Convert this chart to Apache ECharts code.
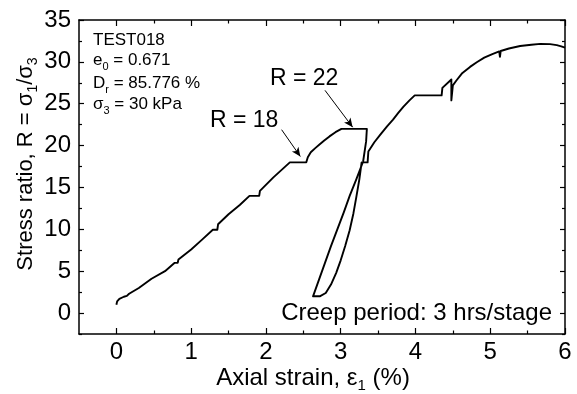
<!DOCTYPE html>
<html>
<head>
<meta charset="utf-8">
<script src="https://cdn.jsdelivr.net/npm/echarts@6/dist/echarts.min.js"></script>
<style>
html,body{margin:0;padding:0;background:#fff;}
#chart{width:577px;height:394px;}
</style>
</head>
<body>
<div id="chart"></div>
<script>
// Axial strain (%) and stress ratio R along the test path (loading, unload-reload loop, reloading)
var strain = [0.00,0.01,0.04,0.10,0.14,0.16,0.17,0.30,0.47,0.65,0.78,0.82,0.83,1.00,1.15,1.29,1.35,1.36,1.50,1.65,1.78,1.91,1.92,2.10,2.32,2.54,2.56,2.60,2.66,2.72,2.78,2.85,2.93,3.01,3.35,
  3.34,3.30,3.21,3.12,3.04,2.955,2.87,2.79,2.71,2.63,
  2.72,2.80,2.87,2.94,3.00,3.06,3.12,3.17,3.21,3.25,3.28,3.36,3.37,3.45,3.53,3.62,3.70,3.77,3.84,3.92,3.99,4.35,4.36,4.48,4.48,4.50,4.55,4.62,4.73,4.82,4.92,5.02,5.12,5.13,5.14,5.25,5.40,5.55,5.67,5.80,5.89,5.95,6.00];
var ratio = [1.0,1.4,1.7,1.95,2.05,2.1,2.3,3.0,4.1,5.0,6.0,6.0,6.4,7.6,8.8,9.95,9.95,10.6,11.8,12.9,14.0,14.0,14.6,16.2,18.0,18.0,18.6,19.2,19.7,20.15,20.6,21.1,21.6,22.0,22.0,
  20.5,18.1,16.0,14.0,12.0,10.0,8.0,6.0,4.0,2.0,
  2.0,2.4,3.4,4.8,6.3,8.0,9.9,11.9,13.9,16.0,18.0,18.0,19.3,20.4,21.3,22.3,23.1,23.9,24.65,25.4,26.0,26.0,26.9,27.9,25.4,27.2,27.8,28.6,29.4,29.95,30.5,30.9,31.25,30.6,31.3,31.6,31.9,32.05,32.15,32.12,32.0,31.85,31.7];

var xMajorTicks = [0,1,2,3,4,5,6];
var xMinorTicks = [0.5,1.5,2.5,3.5,4.5,5.5];
var yMajorTicks = [0,5,10,15,20,25,30,35];
var yMinorTicks = [-2.5,2.5,7.5,12.5,17.5,22.5,27.5,32.5];

// annotation arrows: [start, end] in data coordinates
var arrow18 = [[2.21,21.9],[2.46,18.7]];
var arrow22 = [[2.79,26.6],[3.16,22.2]];

var FONT = "'Liberation Sans', Arial, Helvetica, sans-serif";
var pts = strain.map(function(x,i){return [x, ratio[i]];});

function xAxisDef(pos, ticks, len, showLine, showLabel){
  return {type:'value', min:-0.5, max:6, position:pos, gridIndex:0,
    axisLine:{show:showLine, onZero:false, lineStyle:{color:'#000', width:1.5}},
    axisTick:{show:true, inside:true, length:len, customValues:ticks, lineStyle:{color:'#000', width:1.2}},
    axisLabel:{show:showLabel, customValues:ticks, fontSize:24, color:'#000', fontFamily:FONT, margin:6},
    splitLine:{show:false}};
}
function yAxisDef(pos, ticks, len, showLine, showLabel){
  return {type:'value', min:-2.5, max:35, position:pos, gridIndex:0,
    axisLine:{show:showLine, onZero:false, lineStyle:{color:'#000', width:1.5}},
    axisTick:{show:true, inside:true, length:len, customValues:ticks, lineStyle:{color:'#000', width:1.2}},
    axisLabel:{show:showLabel, customValues:ticks, fontSize:24, color:'#000', fontFamily:FONT, margin:8},
    splitLine:{show:false}};
}

var subRich = function(fs, sfs, pad){
  return {a:{fontSize:fs, fontFamily:FONT, color:'#000'}, s:{fontSize:sfs, fontFamily:FONT, color:'#000', padding:[pad,0,0,0]}};
};

var chart = echarts.init(document.getElementById('chart'));
chart.setOption({
  animation:false,
  backgroundColor:'#fff',
  grid:{left:79, right:12, top:20, bottom:60, containLabel:false},
  xAxis:[
    xAxisDef('bottom', xMajorTicks, 6, true, true),
    xAxisDef('bottom', xMinorTicks, 3.5, false, false),
    xAxisDef('top', xMajorTicks, 6, true, false),
    xAxisDef('top', xMinorTicks, 3.5, false, false)
  ],
  yAxis:[
    yAxisDef('left', yMajorTicks, 5, true, true),
    yAxisDef('left', yMinorTicks, 3, false, false),
    yAxisDef('right', yMajorTicks, 5, true, false),
    yAxisDef('right', yMinorTicks, 3, false, false)
  ],
  series:[{
    type:'line', xAxisIndex:0, yAxisIndex:0, data:pts, showSymbol:false, symbol:'none',
    lineStyle:{color:'#000', width:1.9, join:'round'}, z:5,
    markLine:{silent:true, symbol:['none','arrow'], symbolSize:[6,9], animation:false,
      lineStyle:{color:'#000', width:1, type:'solid'}, label:{show:false},
      data:[
        [{coord:arrow18[0]},{coord:arrow18[1]}],
        [{coord:arrow22[0]},{coord:arrow22[1]}]
      ]}
  }],
  graphic:[
    {type:'text', left:93, top:32, style:{text:'TEST018', font:'17px '+FONT, fill:'#000'}},
    {type:'text', x:93, y:60, style:{text:'{a|e}{s|0}{a| = 0.671}', rich:subRich(17,11,13), verticalAlign:'middle'}},
    {type:'text', x:93, y:83, style:{text:'{a|D}{s|r}{a| = 85.776 %}', rich:subRich(17,11,13), verticalAlign:'middle'}},
    {type:'text', x:93, y:104, style:{text:'{a|σ}{s|3}{a| = 30 kPa}', rich:subRich(17,11,13), verticalAlign:'middle'}},
    {type:'text', x:210, y:121, style:{text:'R = 18', font:'23px '+FONT, fill:'#000', verticalAlign:'middle'}},
    {type:'text', x:270, y:79, style:{text:'R = 22', font:'23px '+FONT, fill:'#000', verticalAlign:'middle'}},
    {type:'text', x:552, y:313, style:{text:'Creep period: 3 hrs/stage', font:'24px '+FONT, fill:'#000', align:'right', verticalAlign:'middle'}},
    {type:'text', x:313, y:378, style:{text:'{a|Axial strain, ε}{s|1}{a| (%)}', rich:subRich(24,15,16), align:'center', verticalAlign:'middle'}},
    {type:'text', x:26, y:164, rotation:Math.PI/2, style:{text:'{a|Stress ratio, R = σ}{s|1}{a|/σ}{s|3}', rich:subRich(22,14,15), align:'center', verticalAlign:'middle'}}
  ]
});
</script>
</body>
</html>
